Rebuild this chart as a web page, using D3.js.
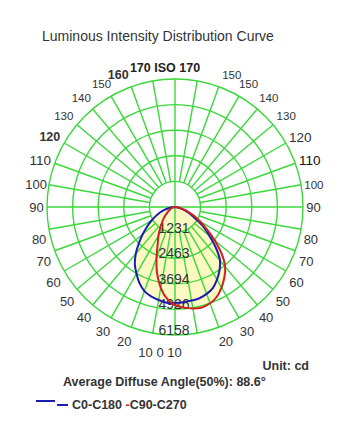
<!DOCTYPE html>
<html>
<head>
<meta charset="utf-8">
<script src="https://cdn.jsdelivr.net/npm/d3@7"></script>
<style>
  html, body { margin: 0; padding: 0; background: #fff; }
  svg { display: block; font-family: "Liberation Sans", Arial, sans-serif; }
</style>
</head>
<body>
<svg id="chart" width="347" height="431"></svg>
<script>
// Gamma angles (degrees from nadir) at which intensities are given
const gammaAngles = [0, 5, 10, 15, 20, 25, 30, 35, 40, 45, 50, 55, 60, 65, 70, 75, 80, 85, 90];

// Luminous intensity in cd, C0/C180 plane (right / left halves)
const c0   = [4620, 4600, 4570, 4545, 4450, 4305, 4040, 3730, 3370, 2790, 2165, 1685, 1155, 820, 530, 335, 190, 95, 0];
const c180 = [4620, 4620, 4545, 4450, 4305, 4040, 3705, 3370, 2935, 2455, 2020, 1635, 1300, 1010, 770, 530, 290, 145, 0];

// Luminous intensity in cd, C90/C270 plane (right / left halves)
const c90  = [4715, 4860, 4955, 5005, 4930, 4765, 4475, 4140, 3755, 3175, 2500, 1875, 1395, 1010, 675, 435, 240, 95, 0];
const c270 = [4715, 4425, 3945, 3320, 2600, 1970, 1590, 1250, 960, 770, 580, 430, 335, 250, 190, 130, 95, 50, 0];

// Intensity rings and their labels
const ringValues = [1231, 2463, 3694, 4926, 6158];
const maxIntensity = 6158;

// Angle labels around the diagram
const labelAngles = [20, 30, 40, 50, 60, 70, 80, 90, 100, 110, 120, 130, 140, 150, 160];
const leftLabels  = ["20", "30", "40", "50", "60", "70", "80", "90", "100", "110", "120", "130", "140", "150", "160"];
const rightLabels = ["20", "30", "40", "50", "60", "70", "80", "90", "100", "110", "120", "130", "140", "150", "150"];
const topLabel = "170 ISO 170";
const bottomLabel = "10 0 10";

const titleText = "Luminous Intensity Distribution Curve";
const unitText = "Unit: cd";
const angleText = "Average Diffuse Angle(50%): 88.6°";
const legendNames = ["C0-C180", "C90-C270"];

const svg = d3.select("#chart");
const cx = 175, cy = 207, R = 128;
const gridColor = "#3ad83a";
const blue = "#1c1caf";
const red = "#d02020";
const textColor = "#333";

const r = d3.scaleLinear().domain([0, maxIntensity]).range([0, R]);
const rad = d => d * Math.PI / 180;

const g = svg.append("g").attr("transform", `translate(${cx},${cy})`);

// Build a closed outline: left half from 90° down to nadir, then right half back up
function planePoints(left, right) {
  const pts = [];
  for (let i = gammaAngles.length - 1; i >= 0; i--) pts.push([Math.PI + rad(gammaAngles[i]), r(left[i])]);
  for (let i = 1; i < gammaAngles.length; i++) pts.push([Math.PI - rad(gammaAngles[i]), r(right[i])]);
  return pts;
}

const radial = d3.lineRadial()
  .angle(d => d[0])
  .radius(d => d[1])
  .curve(d3.curveCatmullRom.alpha(0.5));

const planeC0 = planePoints(c180, c0);
const planeC90 = planePoints(c270, c90);

// Pale fill under the grid
const fillLayer = g.append("g");
[planeC0, planeC90].forEach(p => {
  fillLayer.append("path")
    .attr("d", radial(p) + "Z")
    .attr("fill", "#fbf8c2")
    .attr("stroke", "none");
});

// Grid: rings
const grid = g.append("g").attr("fill", "none").attr("stroke", gridColor).attr("stroke-width", 1.4);
ringValues.forEach(v => {
  grid.append("circle").attr("r", r(v));
});

// Grid: spokes every 10°, main axes through the centre
d3.range(0, 360, 10).forEach(a => {
  const inner = (a % 90 === 0) ? 0 : r(ringValues[0]);
  const t = rad(a);
  grid.append("line")
    .attr("x1", inner * Math.sin(t)).attr("y1", inner * Math.cos(t))
    .attr("x2", R * Math.sin(t)).attr("y2", R * Math.cos(t));
});

// Ring value labels along the nadir
g.append("g").selectAll("text")
  .data(ringValues)
  .join("text")
  .attr("x", -1)
  .attr("y", d => r(d))
  .attr("text-anchor", "middle")
  .attr("font-size", 14)
  .attr("fill", textColor)
  .text(d => d);

// Intensity curves
g.append("path").attr("d", radial(planeC0))
  .attr("fill", "none").attr("stroke", blue).attr("stroke-width", 2);
g.append("path").attr("d", radial(planeC90))
  .attr("fill", "none").attr("stroke", red).attr("stroke-width", 2);

// Angle labels
function labelPos(angle, side) {
  const shift = angle < 90 ? 2.1 - 0.067 * angle : (angle === 90 ? 0 : (angle >= 155 ? -3.3 : -0.8));
  const rr = 143.5 - 5 * Math.exp(-Math.pow((angle - 88) / 16, 2));
  const t = rad(angle + shift);
  return [side * rr * Math.sin(t), rr * Math.cos(t)];
}
function labelStyle(side, angle) {
  if (side < 0) {
    if (angle === 120 || angle === 160) return { size: 12.5, weight: "bold" };
    if (angle === 110) return { size: 13.5, weight: "normal" };
    if (angle === 100) return { size: 13, weight: "normal" };
    if (angle >= 130) return { size: 11.5, weight: "normal" };
    return { size: 13, weight: "normal" };
  }
  if (angle === 110 || angle === 120) return { size: 13.5, weight: "normal" };
  if (angle >= 100) return { size: 11.5, weight: "normal" };
  return { size: 13, weight: "normal" };
}
const labelLayer = g.append("g").attr("fill", textColor);
[[-1, leftLabels], [1, rightLabels]].forEach(([side, texts]) => {
  labelAngles.forEach((a, i) => {
    const [x, y] = labelPos(a, side);
    const st = labelStyle(side, a);
    labelLayer.append("text")
      .attr("x", x).attr("y", y)
      .attr("text-anchor", "middle")
      .attr("dominant-baseline", "central")
      .attr("font-size", st.size)
      .attr("font-weight", st.weight)
      .attr("fill", side > 0 && a === 110 ? "#111" : textColor)
      .text(texts[i]);
  });
});
labelLayer.append("text")
  .attr("x", -10).attr("y", -139)
  .attr("text-anchor", "middle").attr("dominant-baseline", "central")
  .attr("font-size", 12.5).attr("font-weight", "bold").attr("fill", "#222")
  .text(topLabel);
labelLayer.append("text")
  .attr("x", -15).attr("y", 145)
  .attr("text-anchor", "middle").attr("dominant-baseline", "central")
  .attr("font-size", 13)
  .text(bottomLabel);

// Title and notes
svg.append("text").attr("x", 42).attr("y", 41)
  .attr("font-size", 14).attr("fill", textColor).text(titleText);
svg.append("text").attr("x", 309).attr("y", 370).attr("text-anchor", "end")
  .attr("font-size", 12.5).attr("font-weight", "bold").attr("fill", textColor).text(unitText);
svg.append("text").attr("x", 63).attr("y", 386)
  .attr("font-size", 12.5).attr("font-weight", "bold").attr("fill", textColor).text(angleText);

// Legend
const legend = svg.append("g");
legend.append("line").attr("x1", 36).attr("x2", 55).attr("y1", 401).attr("y2", 401)
  .attr("stroke", blue).attr("stroke-width", 2);
legend.append("line").attr("x1", 57).attr("x2", 68).attr("y1", 405).attr("y2", 405)
  .attr("stroke", blue).attr("stroke-width", 2);
const lt = legend.append("text").attr("x", 72).attr("y", 409)
  .attr("font-size", 12.5).attr("font-weight", "bold").attr("fill", textColor)
  .style("white-space", "pre");
lt.append("tspan").text(legendNames[0] + " ");
lt.append("tspan").attr("fill", red).text("-");
lt.append("tspan").text(legendNames[1]);
</script>
</body>
</html>
